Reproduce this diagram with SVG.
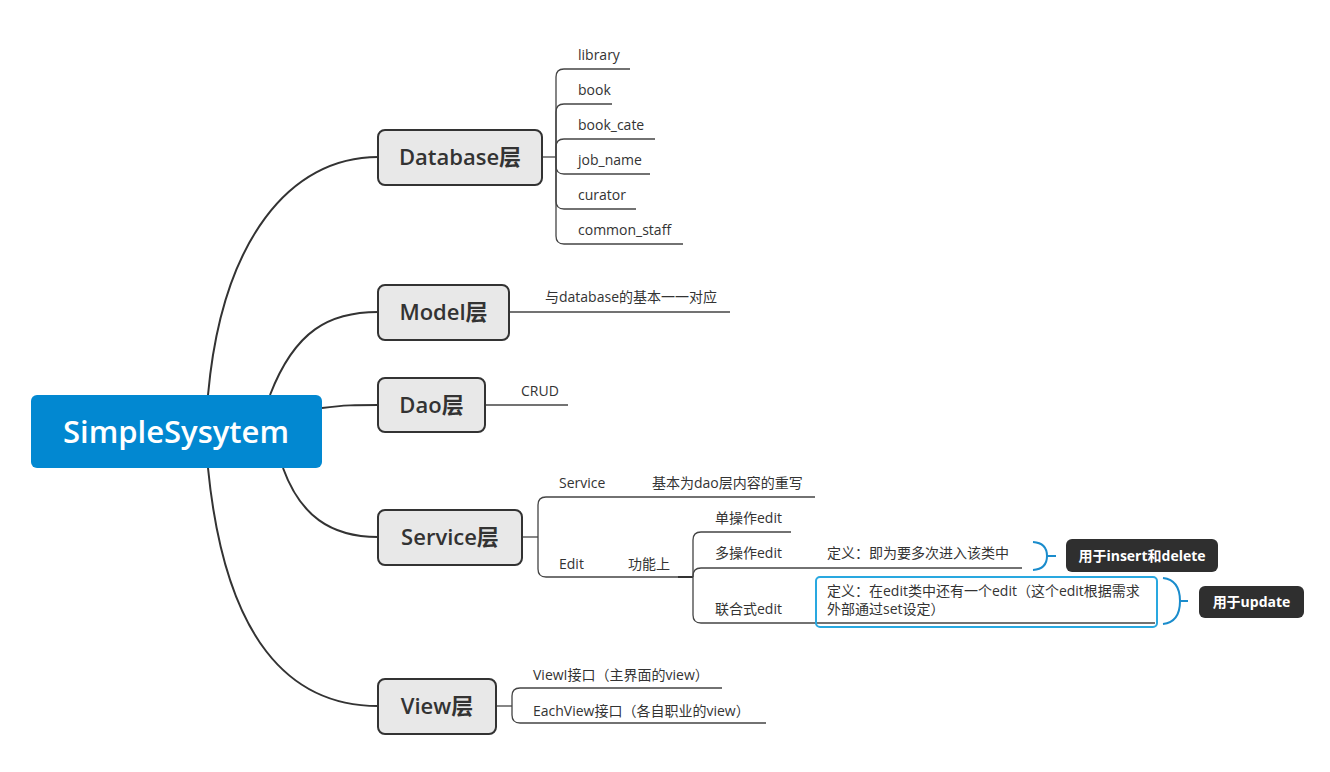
<svg xmlns="http://www.w3.org/2000/svg" width="1330" height="772" viewBox="0 0 1330 772">
<style>
.main{fill:none;stroke:#333;stroke-width:2}
.sub{fill:none;stroke:#444;stroke-width:1.3}
.node rect.box{fill:#e8e8e8;stroke:#333;stroke-width:2}
.node rect.hl{fill:none;stroke:#29a8e0;stroke-width:2}
.nt{font-family:"Open Sans","Noto Sans CJK SC",sans-serif;font-weight:600;font-size:22px;fill:#333;text-anchor:middle}
.t{font-family:"Open Sans","Noto Sans CJK SC",sans-serif;font-size:14px;fill:#333}
.lb{fill:#2f2f2f}
.lt{font-family:"Open Sans","Noto Sans CJK SC",sans-serif;font-weight:bold;font-size:14px;fill:#fff;text-anchor:middle}
.brace{fill:none;stroke:#1a8ccc;stroke-width:2}
</style>
<rect width="1330" height="772" fill="#fff"/>
<g id="connectors">
<path class="main" d="M208,395 C222,240 290,157 378,157"/>
<path class="main" d="M270,395 C295,330 330,312 378,312"/>
<path class="main" d="M322,408 C345,405 355,405 378,405"/>
<path class="main" d="M283,468 C300,515 330,537 378,537"/>
<path class="main" d="M208,468 C225,640 290,706 378,706"/>
<path class="sub" d="M542,157 H556"/>
<path class="sub" d="M556,157 V77 Q556,69 564,69 H630"/>
<path class="sub" d="M556,157 V112 Q556,104 564,104 H612"/>
<path class="sub" d="M556,157 V147 Q556,139 564,139 H655"/>
<path class="sub" d="M556,157 V166 Q556,174 564,174 H650"/>
<path class="sub" d="M556,157 V201 Q556,209 564,209 H636"/>
<path class="sub" d="M556,157 V236 Q556,244 564,244 H683"/>
<path class="sub" d="M509,312 H730"/>
<path class="sub" d="M485,405 H568"/>
<path class="sub" d="M522,537 H538"/>
<path class="sub" d="M538,537 V505 Q538,497 546,497 H815"/>
<path class="sub" d="M538,537 V569 Q538,577 546,577 H678"/>
<path class="main" d="M678,577 H693"/>
<path class="sub" d="M693,577 V540 Q693,532 701,532 H791"/>
<path class="sub" d="M693,577 V576 Q693,568 701,568 H1022"/>
<path class="sub" d="M693,577 V615 Q693,623 701,623 H1155"/>
<path class="sub" d="M496,706 H512"/>
<path class="sub" d="M512,706 V696 Q512,688 520,688 H722"/>
<path class="sub" d="M512,706 V715 Q512,723 520,723 H766"/>
<path class="brace" d="M1033,542 Q1047,543 1047,556 Q1047,569 1033,570 M1047,556 H1056"/>
<path class="brace" d="M1163,578 Q1180,580 1180,601 Q1180,622 1163,624 M1180,601 H1188"/>
</g>
<g id="root">
<rect x="31" y="395" width="291" height="73" rx="6" fill="#0288d1"/>
<text x="176" y="443" font-family="'Open Sans','Noto Sans CJK SC',sans-serif" font-weight="600" font-size="31" fill="#fff" text-anchor="middle">SimpleSysytem</text>
</g>
<g id="database" class="node">
<rect class="box" x="378" y="130" width="164" height="55" rx="7"/>
<text class="nt" x="460" y="165">Database层</text>
<text class="t" x="578" y="60">library</text>
<text class="t" x="578" y="95">book</text>
<text class="t" x="578" y="130">book_cate</text>
<text class="t" x="578" y="165">job_name</text>
<text class="t" x="578" y="200">curator</text>
<text class="t" x="578" y="235">common_staff</text>
</g>
<g id="model" class="node">
<rect class="box" x="378" y="285" width="131" height="55" rx="7"/>
<text class="nt" x="443.5" y="320">Model层</text>
<text class="t" x="545" y="302">与database的基本一一对应</text>
</g>
<g id="dao" class="node">
<rect class="box" x="378" y="378" width="107" height="54" rx="7"/>
<text class="nt" x="431.5" y="413">Dao层</text>
<text class="t" x="521" y="396">CRUD</text>
</g>
<g id="service" class="node">
<rect class="box" x="378" y="510" width="144" height="55" rx="7"/>
<text class="nt" x="450" y="545">Service层</text>
<text class="t" x="559" y="488">Service</text>
<text class="t" x="652" y="488">基本为dao层内容的重写</text>
<text class="t" x="559" y="569">Edit</text>
<text class="t" x="628" y="569">功能上</text>
<text class="t" x="715" y="523">单操作edit</text>
<text class="t" x="715" y="558">多操作edit</text>
<text class="t" x="827" y="558">定义：即为要多次进入该类中</text>
<text class="t" x="715" y="614">联合式edit</text>
<rect class="hl" x="816" y="577" width="341" height="50" rx="4"/>
<text class="t" x="827" y="596">定义：在edit类中还有一个edit（这个edit根据需求</text>
<text class="t" x="827" y="614">外部通过set设定）</text>
</g>
<g id="label-insert">
<rect class="lb" x="1066" y="539" width="152" height="33" rx="6"/>
<text class="lt" x="1142" y="561">用于insert和delete</text>
</g>
<g id="label-update">
<rect class="lb" x="1199" y="586" width="105" height="32" rx="6"/>
<text class="lt" x="1251.5" y="607">用于update</text>
</g>
<g id="view" class="node">
<rect class="box" x="378" y="679" width="118" height="55" rx="7"/>
<text class="nt" x="437" y="714">View层</text>
<text class="t" x="533" y="680">ViewI接口（主界面的view）</text>
<text class="t" x="533" y="716">EachView接口（各自职业的view）</text>
</g>
</svg>
